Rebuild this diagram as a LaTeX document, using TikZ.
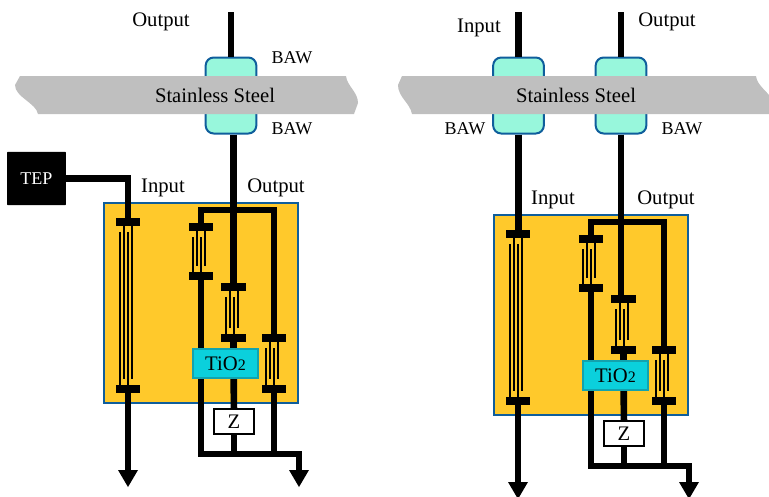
\documentclass[tikz,border=0pt]{standalone}
\usepackage{fontspec}
\setmainfont{Liberation Serif}
\usepackage{xcolor}
\usetikzlibrary{positioning}

\definecolor{bawfill}{HTML}{98F7DC}
\definecolor{edgeblue}{HTML}{0F5E9C}
\definecolor{steelgray}{HTML}{BFBFBF}
\definecolor{boxorange}{HTML}{FFC92B}
\definecolor{tiofill}{HTML}{0BD0DC}
\definecolor{tioedge}{HTML}{12A3AE}

% thin lines of one gauge, between its two bars
\newcommand{\fingers}[2]{
    \draw [finger] ([xshift=-3pt]#1.center) -- ([xshift=-3pt, yshift=7.5pt]#2.center);
    \draw [finger] ([xshift=3pt]#1.center) -- ([xshift=3pt, yshift=7.5pt]#2.center);
    \draw [finger] ([xshift=-6pt, yshift=-7.5pt]#1.center) -- ([xshift=-6pt]#2.center);
    \draw [finger] ([yshift=-7.5pt]#1.center) -- (#2.center);
}

% the orange box with its four gauges
\newcommand{\sensorbox}{
    \node [panel] (box) at (201,303) {};
    \node [plain] at (163,187.5) {Input};
    \node [plain] at (276,187.5) {Output};

    % Bars
    \node [bar] (bar1a) at (128,222) {};
    \node [bar] (bar1b) at (128,389) {};
    \node [bar] (bar2a) at (201,227) {};
    \node [bar] (bar2b) at (201,276) {};
    \node [bar] (bar3a) at (233.5,287) {};
    \node [bar] (bar3b) at (233.5,338) {};
    \node [bar] (bar4a) at (274,338) {};
    \node [bar] (bar4b) at (274,389) {};
    \fingers{bar1a}{bar1b}
    \fingers{bar2a}{bar2b}
    \fingers{bar3a}{bar3b}
    \fingers{bar4a}{bar4b}

    % Wires
    \coordinate (ringtop) at (237,210);
    \coordinate (ringlow) at (250,454);
    \coordinate (endL) at (128,470);
    \coordinate (endR) at (299,470);
    \node [zbox] (z) at (234,421.5) {Z};
    \draw [wire] (bar2a) |- (ringtop) -| (bar4a);
    \draw [wire] (bar2b) |- (ringlow) -| (endR);
    \draw [wire] (bar3b) -- (z);
    \draw [wire] (z) -- (z |- ringlow);
    \draw [wire] (bar4b) -- (bar4b |- ringlow);
    \draw [wire] (bar1b) -- (endL);
    \fill (endL) +(-10,0) -- +(10,0) -- +(0,17) -- cycle;
    \fill (endR) +(-10,0) -- +(10,0) -- +(0,17) -- cycle;
    \node [tio] (tio) at (225.5,363.5) {TiO{\fontsize{12}{14}\selectfont 2}};
}

\begin{document}
\begin{tikzpicture}[
            x=0.75pt, y=-0.75pt,
            font=\fontsize{15.5}{18}\selectfont,
            plain/.style={inner sep=0},
            caps/.style={inner sep=0, font=\fontsize{13.5}{16}\selectfont},
            panel/.style={rectangle, draw=edgeblue, line width=1.5pt, fill=boxorange, minimum width=146pt, minimum height=150.5pt},
            baw/.style={rectangle, draw=edgeblue, line width=1.5pt, fill=bawfill, rounded corners=6pt, minimum width=38pt, minimum height=57pt},
            bar/.style={rectangle, fill=black, inner sep=0, minimum width=18.5pt, minimum height=5.5pt},
            tio/.style={rectangle, draw=tioedge, line width=1.5pt, fill=tiofill, minimum width=49pt, minimum height=22pt, inner sep=0},
            zbox/.style={rectangle, draw, line width=1.5pt, fill=white, minimum width=30pt, minimum height=19pt, inner sep=0},
            tepbox/.style={rectangle, fill=black, text=white, font=\fontsize{13.5}{16}\selectfont, rounded corners=0.5pt, minimum width=44pt, minimum height=40pt},
            wire/.style={draw, line width=5pt},
            finger/.style={draw, line width=1.5pt}
        ]
        \useasboundingbox (0,0) rectangle (769,497);

        % Left Sensor
        \coordinate (leftout) at (231,12);
        \node [baw] (bawleft) at (231,95.5) {};
        \draw [wire] (leftout) -- (bawleft);
        \fill [steelgray] (20,76) -- (346,76) .. controls (347,86) and (358,92) .. (358,103) -- (354,114) -- (38,114) .. controls (36,103) and (15,97) .. (15,85) -- cycle;
        \node at (215,95) {Stainless Steel};
        \node [plain] at (161,22) {Output};
        \node [caps] at (292,58) {BAW};
        \node [caps] at (292,129) {BAW};
        \node [tepbox] (tep) at (36.5,178.5) {TEP};
        \sensorbox
        \draw [wire] (tep) -| (bar1a);
        \draw [wire] (bawleft.south -| bar3a) -- (bar3a);

        % Right Sensor
        \begin{scope}[shift={(390,12)}, name prefix=r-]
            \sensorbox
        \end{scope}
        \coordinate (rightin) at (518.5,12);
        \coordinate (rightout) at (621,12);
        \node [baw] (bawin) at (518.5,95.5) {};
        \node [baw] (bawout) at (621,95.5) {};
        \draw [wire] (rightin) -- (bawin);
        \draw [wire] (rightout) -- (bawout);
        \fill [steelgray] (402,76) -- (756,76) .. controls (757,86) and (769,92) .. (772,100) -- (772,114) -- (412,114) .. controls (410,103) and (398,97) .. (398,85) -- cycle;
        \node at (576,95) {Stainless Steel};
        \node [plain] at (479,28) {Input};
        \node [plain] at (667,22) {Output};
        \node [caps] at (465,129) {BAW};
        \node [caps] at (682,129) {BAW};
        \draw [wire] (bawin.south) -- (bawin.south |- r-bar1a);
        \draw [wire] (bawout.south) -- (bawout.south |- r-bar3a);

    \end{tikzpicture}
\end{document}
